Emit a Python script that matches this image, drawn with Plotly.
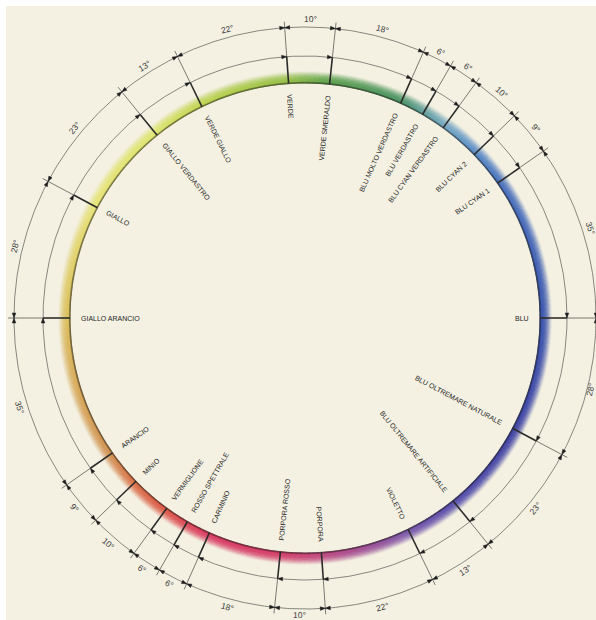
import math
import plotly.graph_objects as go

# ---------------- data ----------------
names = ["GIALLO ARANCIO", "GIALLO", "GIALLO VERDASTRO", "VERDE GIALLO", "VERDE",
         "VERDE SMERALDO", "BLU MOLTO VERDASTRO", "BLU VERDASTRO", "BLU CYAN VERDASTRO",
         "BLU CYAN 2", "BLU CYAN 1", "BLU", "BLU OLTREMARE NATURALE",
         "BLU OLTREMARE ARTIFICIALE", "VIOLETTO", "PORPORA", "PORPORA ROSSO",
         "CARMINIO", "ROSSO SPETTRALE", "VERMIGLIONE", "MINIO", "ARANCIO"]
# degrees from each colour to the next one, going clockwise
intervals = [28, 23, 13, 22, 10, 18, 6, 6, 10, 9, 35, 28, 23, 13, 22, 10, 18, 6, 6, 10, 9, 35]
ring_colors = ["#dcc060", "#e8e47a", "#e0e672", "#c2d656", "#98c04a", "#5ea250",
               "#50966a", "#66a2a0", "#78aac6", "#5e8ec8", "#4e76c0", "#3e58b0",
               "#4448a6", "#5a52ae", "#7e5cae", "#c04a82", "#d4426c", "#dc4068",
               "#dc4c5a", "#dc5c4c", "#dc744c", "#d49456"]
start_angle = 180.0

# ---------------- geometry / style ----------------
CX_PX, CY_PX = 305, 318
W, H = 596, 620
B = 6
R_RING, R_MID, R_OUT = 235, 262, 291
R_LBL = 299
BG = "#f4f1e2"

n = len(names)
angles = []
a = start_angle
for d in intervals:
    angles.append(a)
    a -= d


def pol(r, deg):
    t = math.radians(deg)
    return r * math.cos(t), r * math.sin(t)


def hex2rgb(h):
    h = h.lstrip("#")
    return tuple(int(h[i:i + 2], 16) for i in (0, 2, 4))


def color_at(phi):
    s = (start_angle - phi) % 360
    acc = 0.0
    for i, d in enumerate(intervals):
        if s <= acc + d:
            t = (s - acc) / d
            c1 = hex2rgb(ring_colors[i])
            c2 = hex2rgb(ring_colors[(i + 1) % n])
            return tuple(c1[j] + (c2[j] - c1[j]) * t for j in range(3))
        acc += d
    return hex2rgb(ring_colors[0])


def rgb(c, f=1.0):
    return "rgb(%d,%d,%d)" % tuple(max(0, min(255, int(v * f))) for v in c)


fig = go.Figure()

# ---------------- coloured band ----------------
steps = 1200
phis = [start_angle - 360.0 * k / steps for k in range(steps)]
base = [color_at(p) for p in phis]
n_layers = 10
for k in range(n_layers):
    r = R_RING + 1.0 + k * 1.1
    op = 0.85 * (1 - k / n_layers) ** 1.4
    pts = [pol(r, p) for p in phis]
    fig.add_trace(go.Scatter(
        x=[p[0] for p in pts], y=[p[1] for p in pts], mode="markers",
        marker=dict(size=2.5, color=[rgb(c) for c in base], opacity=op, line=dict(width=0)),
        hoverinfo="skip"))
# darker inner edge
pts = [pol(R_RING + 0.3, p) for p in phis]
fig.add_trace(go.Scatter(
    x=[p[0] for p in pts], y=[p[1] for p in pts], mode="markers",
    marker=dict(size=1.8, color=[rgb(c, 0.6) for c in base], opacity=0.9, line=dict(width=0)),
    hoverinfo="skip"))

# ---------------- circles ----------------
circ = [i * 0.5 for i in range(721)]
for r, col, w in [(R_RING, "rgba(70,70,55,0.55)", 0.8), (R_MID, "#6c6c66", 0.8), (R_OUT, "#6c6c66", 0.8)]:
    pts = [pol(r, p) for p in circ]
    fig.add_trace(go.Scatter(x=[p[0] for p in pts], y=[p[1] for p in pts], mode="lines",
                             line=dict(color=col, width=w), hoverinfo="skip"))

# ---------------- radial lines ----------------
tx, ty, sx, sy = [], [], [], []
for th in angles:
    x0, y0 = pol(R_RING, th)
    x1, y1 = pol(R_MID, th)
    x2, y2 = pol(R_OUT + 6, th)
    tx += [x0, x1, None]
    ty += [y0, y1, None]
    sx += [x1, x2, None]
    sy += [y1, y2, None]
fig.add_trace(go.Scatter(x=tx, y=ty, mode="lines", line=dict(color="#2c2c2a", width=1.6), hoverinfo="skip"))
fig.add_trace(go.Scatter(x=sx, y=sy, mode="lines", line=dict(color="#5a5a56", width=0.8), hoverinfo="skip"))

# ---------------- arrowheads ----------------
L, WA = 5.0, 1.8
ax, ay = [], []


def arrow(r, th, cw):
    dth = math.degrees(L / r)
    tb = th + dth if cw else th - dth
    p0 = pol(r, th)
    p1 = pol(r - WA, tb)
    p2 = pol(r + WA, tb)
    ax.extend([p0[0], p1[0], p2[0], p0[0], None])
    ay.extend([p0[1], p1[1], p2[1], p0[1], None])


for th in angles:
    arrow(R_MID, th, True)
    arrow(R_OUT, th, True)
    arrow(R_OUT, th, False)
fig.add_trace(go.Scatter(x=ax, y=ay, mode="lines", fill="toself", fillcolor="#1e1e1e",
                         line=dict(color="#1e1e1e", width=0.5), hoverinfo="skip"))

# ---------------- labels ----------------
AW = {"A": .667, "B": .667, "C": .722, "D": .722, "E": .667, "F": .611, "G": .778, "H": .722,
      "I": .278, "J": .5, "K": .667, "L": .556, "M": .833, "N": .722, "O": .778, "P": .667,
      "Q": .778, "R": .722, "S": .667, "T": .611, "U": .722, "V": .667, "W": .944, "X": .667,
      "Y": .667, "Z": .611, " ": .278}


def text_w(s, size):
    return sum(AW.get(ch, .556) for ch in s) * size


def norm(a):
    while a > 180:
        a -= 360
    while a <= -180:
        a += 360
    return a


NAME_SIZE = 7
GAP = 11
annotations = []
for name, th in zip(names, angles):
    w = text_w(name, NAME_SIZE)
    r = R_RING - GAP - w / 2
    x, y = pol(r, th)
    thn = norm(th)
    if -90 < thn < 90:
        ang = -thn
    else:
        ang = norm(180 - thn)
    annotations.append(dict(x=x, y=y, xref="x", yref="y", text=name, showarrow=False,
                            textangle=ang, xanchor="center", yanchor="middle",
                            font=dict(family="Liberation Sans, Arial, sans-serif", size=NAME_SIZE,
                                      color="#262626")))

DEG_SIZE = 8.5
xmax = W - CX_PX - 5
ymin = CY_PX - H + 5
for i, d in enumerate(intervals):
    mid = norm(angles[i] - d / 2)
    r = R_LBL
    x, y = pol(r, mid)
    # keep the label inside the picture
    while (x > xmax or y < ymin) and r > R_OUT - 4:
        r -= 0.5
        x, y = pol(r, mid)
    if mid >= 0:
        ang = 90 - mid
    else:
        ang = -90 - mid
    annotations.append(dict(x=x, y=y, xref="x", yref="y", text="%d°" % d, showarrow=False,
                            textangle=norm(ang), xanchor="center", yanchor="middle",
                            font=dict(family="Liberation Sans, Arial, sans-serif", size=DEG_SIZE,
                                      color="#3a3a3a")))

fig.update_layout(
    width=W, height=H, autosize=False,
    margin=dict(l=B, t=B, r=0, b=0, pad=0),
    paper_bgcolor="white", plot_bgcolor=BG,
    showlegend=False,
    xaxis=dict(range=[-(CX_PX - B), W - CX_PX], visible=False, fixedrange=True),
    yaxis=dict(range=[CY_PX - H, CY_PX - B], visible=False, fixedrange=True),
    annotations=annotations,
)

fig.write_html("out.html", post_script="document.body.style.margin='0';",
               config={"displayModeBar": False})
